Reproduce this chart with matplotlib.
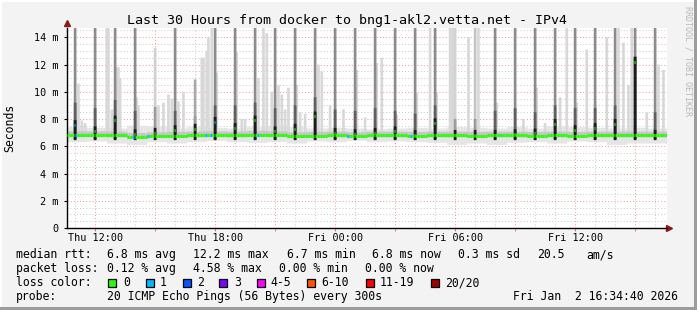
import datetime as dt

import matplotlib
matplotlib.use('Agg')
import matplotlib.pyplot as plt
import matplotlib.dates as mdates
from matplotlib.patches import Rectangle

plt.rcParams['font.family'] = 'DejaVu Sans Mono'

W, H = 697, 310

# 30 hour window ending at print time
end_time = dt.datetime(2026, 1, 2, 16, 34, 40)
start_time = end_time - dt.timedelta(hours=30)
first_step = dt.datetime(2026, 1, 1, 10, 35)
n_steps = 360
step_min = 5

# baseline median rtt for each hour of the window (ms)
median_hourly = [6.82, 6.82, 6.80, 6.70, 6.75, 6.78, 6.80, 6.82, 6.80, 6.85,
                 6.82, 6.75, 6.78, 6.80, 6.75, 6.80, 6.80, 6.78, 6.80, 6.80,
                 6.78, 6.80, 6.80, 6.78, 6.80, 6.78, 6.80, 6.80, 6.80, 6.80]
smoke_lo_hourly = [6.30, 6.35, 6.20, 6.10, 6.30, 6.20, 6.30, 6.40, 6.30, 6.25,
                   6.30, 6.20, 6.35, 6.30, 6.40, 6.30, 6.35, 6.30, 6.25, 6.10,
                   6.20, 6.10, 6.25, 6.30, 6.20, 6.35, 6.30, 6.10, 6.20, 6.20]
smoke_hi_hourly = [7.40, 7.35, 7.30, 7.50, 7.45, 7.30, 7.40, 7.35, 7.30, 7.40,
                   7.50, 7.40, 7.30, 7.35, 7.30, 7.25, 7.30, 7.35, 7.30, 7.40,
                   7.35, 7.30, 7.40, 7.30, 7.45, 7.40, 7.35, 7.30, 7.35, 7.30]

# hourly bursts of slow pings
spike_times = ['Thu 10:55', 'Thu 11:55', 'Thu 12:55', 'Thu 13:55', 'Thu 14:55',
               'Thu 15:55', 'Thu 16:55', 'Thu 17:55', 'Thu 18:55', 'Thu 19:55',
               'Thu 20:55', 'Thu 21:55', 'Thu 22:55', 'Thu 23:55', 'Fri 00:55',
               'Fri 01:55', 'Fri 02:55', 'Fri 03:55', 'Fri 04:55', 'Fri 05:55',
               'Fri 06:55', 'Fri 07:55', 'Fri 08:55', 'Fri 09:55', 'Fri 10:55',
               'Fri 11:55', 'Fri 12:55', 'Fri 13:55', 'Fri 14:55', 'Fri 15:55']
spike_median = [7.57, 7.10, 7.90, 6.90, 7.00, 7.20, 7.30, 7.80, 7.35, 7.90,
                7.10, 7.30, 8.20, 7.00, 6.90, 7.00, 7.10, 6.85, 7.70, 6.85,
                6.85, 6.85, 6.90, 6.95, 7.65, 7.20, 7.35, 7.65, 12.2, 6.85]
spike_top = [15, 15, 15, 15, 13.2, 15, 10.9, 15, 15, 15,
             15, 15, 15, 15, 15, 15, 15, 15, 15, 15,
             15, 15, 15, 15, 15, 15, 15, 15, 15, 15]
spike_grey = ['#8c8c8c'] * 4 + ['#d0d0d0', '#8c8c8c', '#a8a8a8'] + ['#8c8c8c'] * 12 + \
             ['#d2d2d2', '#c4c4c4'] + ['#8c8c8c'] * 9
spike_lower_top = [9.2, 8.8, 9.4, 8.6, 8.9, 8.6, 8.2, 9.0, 9.0, 9.2,
                   8.8, 9.0, 9.6, 8.7, 8.6, 8.8, 8.6, 8.4, 9.0, 8.0,
                   8.0, 8.6, 8.8, 8.5, 9.0, 8.8, 8.8, 9.0, 12.6, 8.5]

# single slow pings (top of the light smoke)
smoke_peak_times = ['Thu 11:00', 'Thu 11:05', 'Thu 11:15', 'Thu 11:25', 'Thu 12:30',
                    'Thu 12:35', 'Thu 12:45', 'Thu 13:00', 'Thu 13:05', 'Thu 13:10',
                    'Thu 14:00', 'Thu 14:05', 'Thu 15:05', 'Thu 15:20', 'Thu 15:35',
                    'Thu 15:45', 'Thu 16:05', 'Thu 16:20', 'Thu 17:15', 'Thu 17:20',
                    'Thu 17:30', 'Thu 17:35', 'Thu 17:45', 'Thu 18:00', 'Thu 19:00',
                    'Thu 19:15', 'Thu 19:25', 'Thu 20:05', 'Thu 20:20', 'Thu 20:30',
                    'Thu 20:45', 'Thu 21:05', 'Thu 21:15', 'Thu 21:25', 'Thu 21:35',
                    'Thu 22:00', 'Thu 22:10', 'Thu 22:25', 'Thu 23:05', 'Thu 23:15',
                    'Thu 23:40', 'Fri 00:20', 'Fri 01:00', 'Fri 01:25', 'Fri 02:00',
                    'Fri 02:15', 'Fri 03:00', 'Fri 04:00', 'Fri 04:40', 'Fri 05:00',
                    'Fri 05:40', 'Fri 05:45', 'Fri 05:50', 'Fri 06:35', 'Fri 07:05',
                    'Fri 08:00', 'Fri 09:20', 'Fri 10:00', 'Fri 10:25', 'Fri 11:10',
                    'Fri 11:30', 'Fri 12:00', 'Fri 12:30', 'Fri 13:30', 'Fri 14:05',
                    'Fri 14:20', 'Fri 14:35', 'Fri 14:45', 'Fri 15:30', 'Fri 16:05',
                    'Fri 16:20']
smoke_peak_values = [9.2, 10.6, 7.9, 7.7, 14.8,
                     14.8, 8.7, 11.8, 11.8, 11.0,
                     9.6, 9.0, 9.0, 9.2, 9.8,
                     9.5, 9.3, 10.0, 12.5, 12.5,
                     13.0, 14.0, 14.8, 11.4, 12.9,
                     8.0, 8.0, 11.0, 14.8, 14.3,
                     10.0, 10.5, 9.8, 8.7, 10.3,
                     10.5, 8.5, 8.4, 12.0, 11.5,
                     9.0, 8.7, 11.6, 8.1, 12.1,
                     12.5, 8.3, 9.9, 14.8, 9.9,
                     14.8, 14.8, 14.8, 14.0, 14.8,
                     9.2, 8.0, 10.3, 7.7, 9.6,
                     14.8, 9.2, 13.1, 14.0, 14.8,
                     13.6, 10.5, 14.8, 8.5, 12.0,
                     11.6]

# steps where 1 of 20 pings was lost
loss1_times = ['Thu 10:55', 'Thu 11:00', 'Thu 13:50', 'Thu 14:35', 'Thu 17:30',
               'Thu 17:45', 'Thu 17:55', 'Thu 20:05', 'Fri 00:35', 'Fri 03:45',
               'Fri 08:10']

loss_labels = ['0', '1', '2', '3', '4-5', '6-10', '11-19', '20/20']
loss_colors = ['#26ff00', '#00b8ff', '#0059ff', '#7e00ff', '#ff00ff',
               '#ff5500', '#ff0000', '#a10000']

rtt_stats = ['6.8 ms avg', '12.2 ms max', '6.7 ms min', '6.8 ms now',
             '0.3 ms sd', '20.5', 'am/s']
loss_stats = ['0.12 % avg', '4.58 % max', '0.00 % min', '0.00 % now']
probe_text = '20 ICMP Echo Pings (56 Bytes) every 300s'
stamp_text = 'Fri Jan  2 16:34:40 2026'
title = 'Last 30 Hours from docker to bng1-akl2.vetta.net - IPv4'


def t(s):
    day, hm = s.split()
    h, m = hm.split(':')
    return dt.datetime(2026, 1, {'Thu': 1, 'Fri': 2}[day], int(h), int(m))


steps = [first_step + dt.timedelta(minutes=step_min * i) for i in range(n_steps)]
xs = mdates.date2num(steps)
bw = step_min / 1440.0
hour_idx = [min(29, int((s - start_time).total_seconds() // 3600)) for s in steps]

median = [median_hourly[h] for h in hour_idx]
lo = [smoke_lo_hourly[h] for h in hour_idx]
hi = [smoke_hi_hourly[h] for h in hour_idx]
spike_pos = {t(s): k for k, s in enumerate(spike_times)}
for i, s in enumerate(steps):
    if s in spike_pos:
        median[i] = spike_median[spike_pos[s]]
loss_set = set(t(s) for s in loss1_times)
med_color = [loss_colors[1] if s in loss_set else loss_colors[0] for s in steps]

fig = plt.figure(figsize=(W / 100, H / 100), dpi=100)
fig.patch.set_facecolor('#f3f3f3')
ax = fig.add_axes([67 / W, (H - 228) / H, 600 / W, 200 / H])
ax.set_facecolor('white')
ax.set_xlim(mdates.date2num(start_time), mdates.date2num(end_time))
ax.set_ylim(0, 14.68)

# grid
for k in range(1, 30):
    yv = k * 0.5
    major = k % 4 == 0
    ax.axhline(yv, color='#f0a0a0' if major else '#cfcfcf', lw=0.75,
               ls=(0, (1, 2)), zorder=0)
hr = dt.datetime(2026, 1, 1, 11, 0)
while hr < end_time:
    major = hr.hour % 3 == 0
    ax.axvline(mdates.date2num(hr), color='#f0a0a0' if major else '#cfcfcf',
               lw=0.75, ls=(0, (1, 2)), zorder=0)
    hr += dt.timedelta(hours=1)

# smoke
kw = dict(align='edge', linewidth=0, snap=False)
wide = bw * 1.6
ax.bar(xs, [b - a for a, b in zip(lo, hi)], width=bw, bottom=lo, color='#e3e3e3', zorder=1, **kw)
px = mdates.date2num([t(s) for s in smoke_peak_times])
ax.bar(px, [v - 6.9 for v in smoke_peak_values], width=wide, bottom=6.9,
       color='#d8d8d8', zorder=1, **kw)
ax.bar(xs, [0.42] * n_steps, width=bw, bottom=[m - 0.15 for m in median],
       color='#c4c4c4', zorder=2, **kw)

sx = mdates.date2num([t(s) for s in spike_times])
ax.bar(sx, [v - 6.5 for v in spike_top], width=wide, bottom=6.5, color=spike_grey, zorder=3, **kw)
lower_col = ['#606060' if g == '#8c8c8c' else '#9c9c9c' for g in spike_grey]
ax.bar(sx, [v - 6.5 for v in spike_lower_top], width=wide, bottom=6.5, color=lower_col,
       zorder=3, **kw)
ax.bar(sx, [m + 0.35 - 6.45 for m in spike_median], width=wide, bottom=6.45,
       color='#1c1c1c', zorder=4, **kw)

# median rtt coloured by loss
ax.hlines(median, xs, xs + bw, colors=med_color, lw=2.2, zorder=5)

# axes
for side in ('top', 'right'):
    ax.spines[side].set_visible(False)
ax.spines['left'].set_linewidth(1)
ax.spines['bottom'].set_linewidth(1)
ax.plot([0], [1.025], marker='^', ms=4, color='#8b1a1a', transform=ax.transAxes, clip_on=False)
ax.plot([1.003], [0], marker='>', ms=4, color='#8b1a1a', transform=ax.transAxes, clip_on=False)

ax.set_yticks(range(0, 15, 2))
ax.set_yticklabels(['0'] + ['%d m' % v for v in range(2, 15, 2)])
ax.xaxis.set_major_locator(mdates.HourLocator(byhour=[0, 6, 12, 18]))
ax.xaxis.set_minor_locator(mdates.HourLocator(byhour=[3, 9, 15, 21]))
ax.xaxis.set_major_formatter(mdates.DateFormatter('%a %H:%M'))
ax.tick_params(axis='x', which='both', length=2.2, color='#e07070', labelsize=7.25, pad=1.5)
ax.tick_params(axis='y', length=2, labelsize=7.25, pad=4)

# text
def ftext(x, y, s, **k):
    fig.text(x / W, 1 - y / H, s, **k)

ftext(347, 24, title, ha='center', va='baseline', fontsize=9.6)
ftext(10, 128, 'Seconds', rotation=90, ha='center', va='center', fontsize=8.3)
ftext(688, 6, 'RRDTOOL / TOBI OETIKER', rotation=270, ha='center', va='top',
      fontsize=6, color='#b8b8b8')

fs = 8.3
ftext(16, 258, 'median rtt:', fontsize=fs, va='baseline')
for x, s in zip([107, 193, 287, 371.5, 458, 537, 586], rtt_stats):
    ftext(x, 258, s, fontsize=fs, va='baseline')
ftext(16, 272, 'packet loss:', fontsize=fs, va='baseline')
for x, s in zip([107, 193, 279, 365], loss_stats):
    ftext(x, 272, s, fontsize=fs, va='baseline')
ftext(16, 286, 'loss color:', fontsize=fs, va='baseline')
box_x = [108.3, 145.7, 182.7, 219.3, 256.7, 307.3, 365.7, 431]
lab_x = [123.3, 159.3, 197.3, 234.3, 270.7, 321.7, 380, 445]
for bx, lx, lab, col in zip(box_x, lab_x, loss_labels, loss_colors):
    fig.patches.append(Rectangle((bx / W, 1 - 286.5 / H), 8 / W, 8 / H,
                                 transform=fig.transFigure, facecolor=col,
                                 edgecolor='black', linewidth=0.9))
    ftext(lx, 286, lab, fontsize=fs, va='baseline')
ftext(16, 300, 'probe:', fontsize=fs, va='baseline')
ftext(107, 300, probe_text, fontsize=fs, va='baseline')
ftext(513, 300, stamp_text, fontsize=fs, va='baseline')

# 3d border of the image
for (x0, y0, w, h, c) in [(0, 0, W, 2, '#ffffff'), (0, 0, 2, H, '#ffffff'),
                          (W - 3, 0, 3, H, '#9c9c9c'), (0, H - 3, W, 3, '#9c9c9c')]:
    fig.patches.append(Rectangle((x0 / W, 1 - (y0 + h) / H), w / W, h / H,
                                 transform=fig.transFigure, facecolor=c, linewidth=0))

fig.savefig('out.png', dpi=100, facecolor=fig.get_facecolor())
